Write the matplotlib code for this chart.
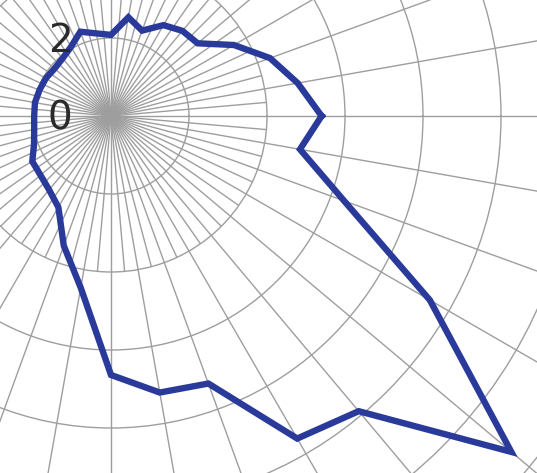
import numpy as np
import matplotlib.pyplot as plt
from matplotlib.transforms import offset_copy

# profile radius every 10 degrees, counter-clockwise from east
angles_deg = list(range(0, 360, 10))
radius = [5.4, 4.86, 4.34, 3.64, 2.9, 2.85, 2.69, 2.33, 2.57, 2.08,
          2.15, 2.3, 2.05, 1.93, 1.89, 1.93, 1.95, 1.98, 1.97, 2.0,
          2.1, 2.33, 2.36, 2.47, 2.7, 3.54, 4.47, 6.64, 7.2, 7.3,
          9.55, 9.88, 13.4, 9.44, 6.36, 4.92]
rings = [2, 4, 6, 8, 10, 12, 14, 16]
ring_labels = [0, 2]

W, H = 537, 473
fig = plt.figure(figsize=(W / 100, H / 100), dpi=100)

# pole sits near the upper left, the web runs off the figure edges
cx, cy = 111, H - 116
rmax = 16
R = rmax * 39
ax = fig.add_axes([(cx - R) / W, (cy - R) / H, 2 * R / W, 2 * R / H],
                  projection='polar')
ax.set_ylim(0, rmax)

grid_col = '#9e9e9e'
ax.set_xticks(np.deg2rad(np.arange(0, 360, 10)))
ax.set_yticks(rings)
ax.set_xticklabels([])
ax.set_yticklabels([])
ax.grid(color=grid_col, lw=1.0)
ax.spines['polar'].set_visible(False)

# extra spokes in the inner part of the web
ax.vlines(np.deg2rad(np.arange(5, 360, 10)), 0, 4, color=grid_col, lw=1.0)

theta = np.deg2rad(angles_deg + [angles_deg[0]])
ax.plot(theta, radius + [radius[0]], color='#2a3a9a', lw=4.6,
        solid_joinstyle='miter', zorder=5)

lab_tr = offset_copy(ax.transData, fig=fig, x=-51, y=-3, units='dots')
for v in ring_labels:
    ax.text(np.pi / 2, v, str(v), transform=lab_tr, ha='center', va='center',
            fontsize=28, color='#2a2a2a', zorder=6)

fig.savefig('out.png', dpi=100)
